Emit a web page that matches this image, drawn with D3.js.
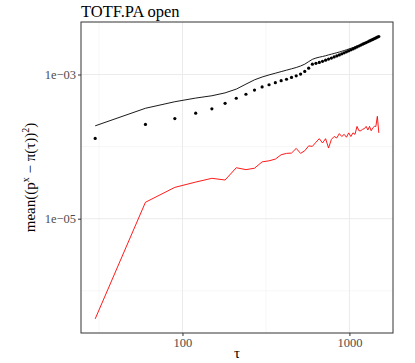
<!DOCTYPE html>
<html><head><meta charset="utf-8">
<script src="https://cdn.jsdelivr.net/npm/d3@7/dist/d3.min.js"></script>
<style>body{margin:0;background:#fff}svg{display:block}text{font-family:"Liberation Serif","DejaVu Serif",serif}</style>
</head><body><svg id="c" width="415" height="363"></svg>
<script>
const tau = [30,60,90,120,150,180,210,240,270,300,330,360,390,420,450,480,510,540,570,600,630,660,690,720,750,780,810,840,870,900,930,960,990,1020,1050,1080,1110,1140,1170,1200,1230,1260,1290,1320,1350,1380,1410,1440,1470,1500];
const blackLine = [1.94e-4,3.40e-4,4.19e-4,4.71e-4,5.07e-4,5.56e-4,6.27e-4,7.35e-4,8.43e-4,9.23e-4,9.86e-4,1.042e-3,1.096e-3,1.148e-3,1.199e-3,1.250e-3,1.312e-3,1.390e-3,1.507e-3,1.622e-3,1.690e-3,1.738e-3,1.778e-3,1.820e-3,1.871e-3,1.914e-3,1.959e-3,2.004e-3,2.051e-3,2.099e-3,2.148e-3,2.203e-3,2.254e-3,2.307e-3,2.355e-3,2.410e-3,2.466e-3,2.523e-3,2.582e-3,2.642e-3,2.704e-3,2.767e-3,2.831e-3,2.897e-3,2.965e-3,3.034e-3,3.126e-3,3.214e-3,3.304e-3,3.404e-3];
const points = [1.30e-4,2.03e-4,2.45e-4,2.91e-4,3.34e-4,3.98e-4,4.68e-4,5.32e-4,6.07e-4,6.73e-4,7.21e-4,7.69e-4,8.20e-4,8.59e-4,9.12e-4,9.59e-4,1.012e-3,1.102e-3,1.225e-3,1.390e-3,1.429e-3,1.472e-3,1.521e-3,1.578e-3,1.637e-3,1.690e-3,1.750e-3,1.811e-3,1.871e-3,1.932e-3,1.995e-3,2.061e-3,2.128e-3,2.198e-3,2.265e-3,2.339e-3,2.410e-3,2.483e-3,2.559e-3,2.630e-3,2.704e-3,2.773e-3,2.844e-3,2.917e-3,2.992e-3,3.069e-3,3.141e-3,3.214e-3,3.289e-3,3.365e-3];
const redLine = [4.08e-7,1.69e-5,2.72e-5,3.22e-5,3.63e-5,3.44e-5,5.09e-5,4.79e-5,5.01e-5,6.14e-5,6.35e-5,6.71e-5,7.71e-5,8.05e-5,8.13e-5,9.44e-5,8.05e-5,8.75e-5,1.023e-4,1.007e-4,1.148e-4,1.288e-4,1.122e-4,1.288e-4,9.55e-5,1.259e-4,1.380e-4,1.318e-4,1.514e-4,1.380e-4,1.479e-4,1.349e-4,1.549e-4,1.380e-4,1.549e-4,1.479e-4,1.905e-4,1.660e-4,1.660e-4,1.738e-4,1.778e-4,1.905e-4,1.698e-4,1.905e-4,1.660e-4,1.820e-4,1.905e-4,1.905e-4,2.630e-4,1.549e-4];
const xMajor = [100,1000], xMajorLabels = ["100","1000"];
const xMinor = [Math.pow(10,1.5), Math.pow(10,2.5)];
const yMajor = [1e-3,1e-5], yMajorLabels = ["1e\u221203","1e\u221205"];
const yMinor = [1e-4,1e-6];

const svg = d3.select("#c");
const L=81, R=393, T=22, B=333;
function expandLog(vals){const e=d3.extent(vals.map(Math.log10));const d=(e[1]-e[0])*0.05;return [Math.pow(10,e[0]-d),Math.pow(10,e[1]+d)];}
const x = d3.scaleLog().domain(expandLog(tau)).range([L,R]);
const y = d3.scaleLog().domain(expandLog(blackLine.concat(points,redLine))).range([B,T]);

const g = svg.append("g");
// grid
g.selectAll(".vmin").data(xMinor).join("line").attr("x1",d=>x(d)).attr("x2",d=>x(d)).attr("y1",T).attr("y2",B).attr("stroke","#f2f2f2").attr("stroke-width",0.6);
g.selectAll(".hmin").data(yMinor).join("line").attr("y1",d=>y(d)).attr("y2",d=>y(d)).attr("x1",L).attr("x2",R).attr("stroke","#f2f2f2").attr("stroke-width",0.6);
g.selectAll(".vmaj").data(xMajor).join("line").attr("x1",d=>x(d)).attr("x2",d=>x(d)).attr("y1",T).attr("y2",B).attr("stroke","#ebebeb").attr("stroke-width",1);
g.selectAll(".hmaj").data(yMajor).join("line").attr("y1",d=>y(d)).attr("y2",d=>y(d)).attr("x1",L).attr("x2",R).attr("stroke","#ebebeb").attr("stroke-width",1);

const line = d3.line().x((d,i)=>x(tau[i])).y(d=>y(d));
svg.append("path").attr("d",line(redLine)).attr("fill","none").attr("stroke","#ff0000").attr("stroke-width",0.9);
svg.append("path").attr("d",line(blackLine)).attr("fill","none").attr("stroke","#000").attr("stroke-width",0.9);
svg.selectAll(".pt").data(points).join("circle").attr("cx",(d,i)=>x(tau[i])).attr("cy",d=>y(d)).attr("r",1.6).attr("fill","#000");

svg.append("rect").attr("x",L).attr("y",T).attr("width",R-L).attr("height",B-T).attr("fill","none").attr("stroke","#333").attr("stroke-width",1);

// axes
const xAxis = d3.axisBottom(x).tickValues(xMajor).tickFormat((d,i)=>xMajorLabels[i]).tickSize(3).tickPadding(2);
const xa = svg.append("g").attr("transform",`translate(0,${B})`).call(xAxis);
xa.select(".domain").remove();
xa.selectAll(".tick line").attr("stroke","#333");
xa.selectAll("text").attr("fill","#4d4d4d").style("font-size","12.5px").style("font-family","Liberation Serif");
const yAxis = d3.axisLeft(y).tickValues(yMajor).tickFormat((d,i)=>yMajorLabels[i]).tickSize(3).tickPadding(2);
const ya = svg.append("g").attr("transform",`translate(${L},0)`).call(yAxis);
ya.select(".domain").remove();
ya.selectAll(".tick line").attr("stroke","#333");
ya.selectAll("text").attr("fill","#4d4d4d").style("font-size","12.5px").style("font-family","Liberation Serif");

svg.append("text").attr("x",L).attr("y",17).style("font-size","16.5px").attr("fill","#000").text("TOTF.PA open");
svg.append("text").attr("x",(L+R)/2).attr("y",358).attr("text-anchor","middle").style("font-size","15px").text("\u03c4");

const yt = svg.append("text").attr("transform",`translate(35,${(T+B)/2}) rotate(-90)`).attr("text-anchor","middle").style("font-size","15px");
yt.append("tspan").text("mean((p");
yt.append("tspan").attr("dy",-6).style("font-size","10px").text("x");
yt.append("tspan").attr("dy",6).text(" \u2212 \u03c0(\u03c4))");
yt.append("tspan").attr("dy",-6).style("font-size","10px").text("2");
yt.append("tspan").attr("dy",6).text(")");
</script></body></html>
